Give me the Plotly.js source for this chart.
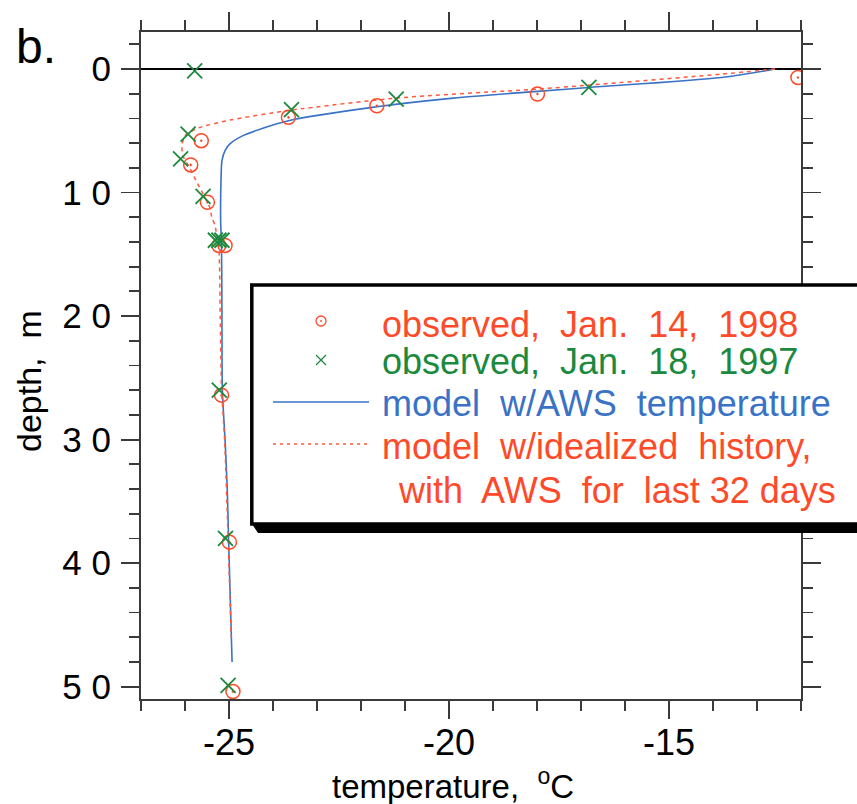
<!DOCTYPE html>
<html><head><meta charset="utf-8">
<script src="https://cdn.plot.ly/plotly-3.0.1.min.js"></script>
<style>html,body{margin:0;padding:0;background:#fff;} #chart{width:857px;height:804px;}</style>
</head><body><div id="chart"></div>
<script>
// ---- data ----
const obs1998Temp  = [-12.07, -17.99, -21.64, -23.65, -25.63, -25.87, -25.49, -25.23, -25.09, -25.17, -24.99, -24.91];
const obs1998Depth = [0.68, 2.02, 2.97, 3.91, 5.80, 7.76, 10.78, 14.28, 14.28, 26.4, 38.3, 50.4];

const obs1997Temp  = [-25.78, -16.82, -21.20, -23.58, -25.93, -26.10, -25.59, -25.31, -25.23, -25.16, -25.22, -25.08, -25.02];
const obs1997Depth = [0.14, 1.49, 2.43, 3.29, 5.26, 7.28, 10.30, 13.86, 13.86, 13.86, 26.0, 38.0, 49.9];

const modelAwsTemp  = [-12.59, -13.81, -16.82, -17.99, -19.90, -21.64, -23.65, -24.68, -24.98, -25.09, -25.16, -25.18, -25.19, -25.17, -25.16, -25.15, -25.09, -25.04, -25.01, -24.97, -24.93];
const modelAwsDepth = [0, 0.68, 1.49, 1.81, 2.35, 3.05, 4.18, 5.39, 6.06, 6.60, 7.41, 8.76, 12.26, 14.3, 20, 26, 30, 34, 38, 43, 48];

const modelIdealTemp  = [-12.59, -13.81, -16.82, -17.99, -21.20, -23.58, -24.98, -25.70, -26.00, -26.07, -26.05, -25.90, -25.75, -25.59, -25.44, -25.39, -25.32, -25.23, -25.20, -25.17, -25.10, -25.02, -24.95];
const modelIdealDepth = [0, 0.41, 1.30, 1.62, 2.35, 3.32, 4.13, 4.77, 5.39, 6.20, 7.00, 7.95, 9.03, 10.10, 11.19, 12.00, 12.66, 14.6, 20, 25.8, 30, 38, 46];

const xTickVals = [-25, -20, -15];
const xTickText = ['-25', '-20', '-15'];
const yTickVals = [0, 10, 20, 30, 40, 50];
const yTickText = ['0', '1 0', '2 0', '3 0', '4 0', '5 0'];

const xTitle = 'temperature,  <sup>o</sup>C';
const yTitle = 'depth,  m';
const panelLabel = 'b.';
const legendNames = [
  'observed,  Jan.  14,  1998',
  'observed,  Jan.  18,  1997',
  'model  w/AWS  temperature',
  'model  w/idealized  history,',
  'with  AWS  for  last 32 days'
];

// ---- colours ----
const cRed = '#ff4a2a', cGreen = '#1b8a3e', cBlue = '#3a72c6', cRedLine = '#ff5a3c';
const FONT = 'Liberation Sans, Arial, Helvetica, sans-serif';

// ---- pixel helpers for the hand-drawn legend ----
const W = 857, H = 804, ML = 141, MR = 56, MT = 32, MB = 105;
const PW = W - ML - MR, PH = H - MT - MB;
const px = v => (v - ML) / PW;
const py = v => (H - MB - v) / PH;

const traces = [
  {x: modelAwsTemp, y: modelAwsDepth, mode: 'lines', name: legendNames[2],
   line: {color: cBlue, width: 1.6, shape: 'spline', smoothing: 0.8}},
  {x: modelIdealTemp, y: modelIdealDepth, mode: 'lines', name: legendNames[3],
   line: {color: cRedLine, width: 1.5, dash: '4px,4px', shape: 'spline', smoothing: 0.6}},
  {x: obs1998Temp, y: obs1998Depth, mode: 'markers', name: legendNames[0],
   marker: {symbol: 'circle-open-dot', size: 14, color: cRed, line: {color: cRed, width: 1.5}}},
  {x: obs1997Temp, y: obs1997Depth, mode: 'markers', name: legendNames[1],
   marker: {symbol: 'x-thin-open', size: 15, color: cGreen, line: {color: cGreen, width: 1.8}}}
];

const axCol = '#3a3a3a';
const shapes = [];
// legend shadow (bevelled) and box
shapes.push({type: 'path', xref: 'paper', yref: 'paper', layer: 'above',
  path: `M ${px(250)},${py(521)} L ${px(258)},${py(533)} L ${px(880)},${py(533)} L ${px(880)},${py(521)} Z`,
  fillcolor: '#000', line: {width: 0}});
shapes.push({type: 'rect', xref: 'paper', yref: 'paper', layer: 'above',
  x0: px(251.8), x1: px(880), y0: py(285), y1: py(524),
  fillcolor: '#fff', line: {color: '#000', width: 3.5}});
// legend symbols
const cx = px(321);
shapes.push({type: 'circle', xref: 'paper', yref: 'paper', layer: 'above',
  xsizemode: 'pixel', ysizemode: 'pixel', xanchor: cx, yanchor: py(321),
  x0: -5, x1: 5, y0: -5, y1: 5, line: {color: cRed, width: 1.3}});
shapes.push({type: 'circle', xref: 'paper', yref: 'paper', layer: 'above',
  xsizemode: 'pixel', ysizemode: 'pixel', xanchor: cx, yanchor: py(321),
  x0: -0.8, x1: 0.8, y0: -0.8, y1: 0.8, fillcolor: cRed, line: {color: cRed, width: 0.5}});
shapes.push({type: 'line', xref: 'paper', yref: 'paper', layer: 'above',
  xsizemode: 'pixel', ysizemode: 'pixel', xanchor: cx, yanchor: py(360),
  x0: -5, x1: 5, y0: -5, y1: 5, line: {color: cGreen, width: 1.3}});
shapes.push({type: 'line', xref: 'paper', yref: 'paper', layer: 'above',
  xsizemode: 'pixel', ysizemode: 'pixel', xanchor: cx, yanchor: py(360),
  x0: -5, x1: 5, y0: 5, y1: -5, line: {color: cGreen, width: 1.3}});
shapes.push({type: 'line', xref: 'paper', yref: 'paper', layer: 'above',
  x0: px(273), x1: px(369), y0: py(402), y1: py(402), line: {color: cBlue, width: 1.6}});
shapes.push({type: 'line', xref: 'paper', yref: 'paper', layer: 'above',
  x0: px(273), x1: px(369), y0: py(444), y1: py(444), line: {color: cRedLine, width: 1.3, dash: '3px,4px'}});

const legendColors = [cRed, cGreen, cBlue, cRed, cRed];
const legendBase = [335, 373, 415, 457, 501];
const legendX = [380, 380, 380, 380, 396];
const annotations = legendNames.map((t, i) => ({
  text: t, xref: 'paper', yref: 'paper', x: px(legendX[i]), y: py(legendBase[i] - 11),
  xanchor: 'left', yanchor: 'middle', showarrow: false,
  font: {family: FONT, size: 36, color: legendColors[i]}
}));
annotations.push({text: panelLabel, xref: 'paper', yref: 'paper', x: px(14), y: py(46),
  xanchor: 'left', yanchor: 'middle', showarrow: false,
  font: {family: FONT, size: 48, color: '#000'}});
// axis titles
annotations.push({text: xTitle, xref: 'paper', yref: 'paper', x: px(453), y: py(784),
  xanchor: 'center', yanchor: 'middle', showarrow: false,
  font: {family: FONT, size: 33, color: '#000'}});
annotations.push({text: yTitle, xref: 'paper', yref: 'paper', x: px(29), y: py(381),
  xanchor: 'center', yanchor: 'middle', showarrow: false, textangle: -90,
  font: {family: FONT, size: 34, color: '#000'}});

const layout = {
  width: W, height: H,
  margin: {l: ML, r: MR, t: MT, b: MB, pad: 0},
  paper_bgcolor: '#fff', plot_bgcolor: '#fff',
  showlegend: false,
  font: {family: FONT, color: '#000'},
  xaxis: {
    range: [-27, -12], tickmode: 'array', tickvals: xTickVals, ticktext: xTickText,
    ticks: 'outside', ticklen: 18, tickwidth: 1.8, tickcolor: axCol, ticklabelstandoff: -7,
    minor: {tickmode: 'linear', tick0: -27, dtick: 1, ticks: 'outside', ticklen: 10, tickwidth: 1.8, tickcolor: axCol},
    showline: true, linecolor: axCol, linewidth: 2, mirror: 'ticks',
    showgrid: false, zeroline: false,
    tickfont: {family: FONT, size: 36, color: '#000'}
  },
  yaxis: {
    range: [51, -3], tickmode: 'array', tickvals: yTickVals, ticktext: yTickText,
    ticks: 'outside', ticklen: 18, tickwidth: 1.8, tickcolor: axCol, ticklabelstandoff: 3,
    minor: {tickmode: 'linear', tick0: 0, dtick: 2, ticks: 'outside', ticklen: 10, tickwidth: 1.8, tickcolor: axCol},
    showline: true, linecolor: axCol, linewidth: 2, mirror: 'ticks',
    showgrid: false, zeroline: true, zerolinecolor: '#000', zerolinewidth: 1.5,
    tickfont: {family: FONT, size: 35, color: '#000'}
  },
  shapes: shapes,
  annotations: annotations
};

Plotly.newPlot('chart', traces, layout, {displayModeBar: false, staticPlot: true});
</script></body></html>
